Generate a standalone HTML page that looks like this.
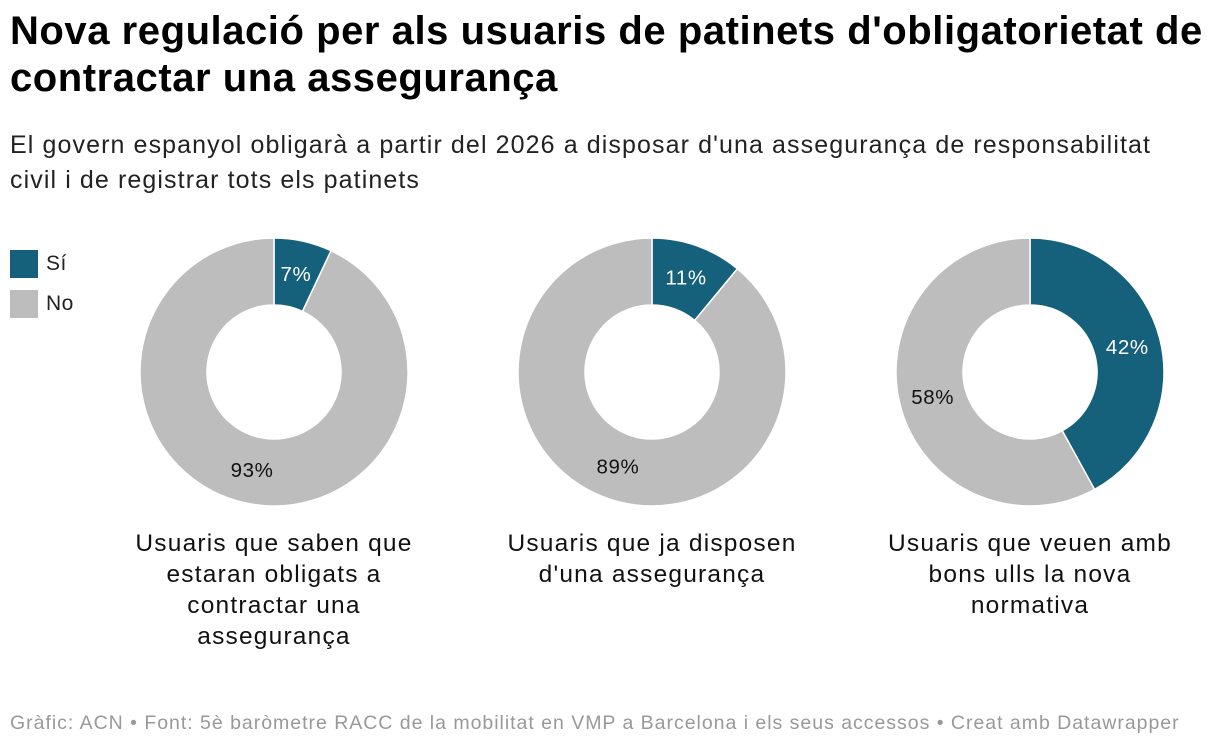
<!DOCTYPE html>
<html><head><meta charset="utf-8"><style>
body{margin:0;background:#fff;font-family:"Liberation Sans",Arial,sans-serif;}
#wrap{position:relative;width:1220px;height:750px;overflow:hidden}
h1{position:absolute;left:10px;top:8px;margin:0;font-size:40px;line-height:47px;font-weight:bold;color:#000;letter-spacing:0.55px;width:1210px}
.sub{position:absolute;left:10px;top:128px;margin:0;font-size:25px;line-height:35px;color:#222;width:1180px;letter-spacing:1.1px}
.leg{position:absolute;left:10px;font-size:21px;color:#222;display:flex;align-items:center;letter-spacing:0.5px}
.leg span.sw{width:28px;height:28px;display:inline-block;margin-right:8px}
.cap{position:absolute;top:528px;width:300px;text-align:center;font-size:24.5px;line-height:31px;color:#111;letter-spacing:1.2px}
.foot{position:absolute;left:10px;top:712px;font-size:19.5px;color:#999;letter-spacing:0.98px;white-space:nowrap}
</style></head><body><div id="wrap">
<h1>Nova regulació per als usuaris de patinets d'obligatorietat de contractar una assegurança</h1>
<p class="sub">El govern espanyol obligarà a partir del 2026 a disposar d'una assegurança de responsabilitat civil i de registrar tots els patinets</p>
<div class="leg" style="top:250px"><span class="sw" style="background:#15607a"></span>Sí</div>
<div class="leg" style="top:290px"><span class="sw" style="background:#bdbdbd"></span>No</div>
<svg id="svg" width="1220" height="750" style="position:absolute;left:0;top:0"></svg>
<div class="cap" style="left:124px">Usuaris que saben que estaran obligats a contractar una assegurança</div>
<div class="cap" style="left:502px">Usuaris que ja disposen d'una assegurança</div>
<div class="cap" style="left:880px">Usuaris que veuen amb bons ulls la nova normativa</div>
<div class="foot">Gràfic: ACN • Font: 5è baròmetre RACC de la mobilitat en VMP a Barcelona i els seus accessos • Creat amb Datawrapper</div>
</div>
<script>
const categories=["saben","disposen","veuen"];
const siValues=[7,11,42];
const noValues=[93,89,58];
const svg=document.getElementById('svg');
const NS='http://www.w3.org/2000/svg';
const centers=[274,652,1030], cy=372, R=134, r=67;
function pt(a,rad,cx){return [cx+rad*Math.sin(a),cy-rad*Math.cos(a)];}
function arc(cx,a0,a1){
 const large=(a1-a0)>Math.PI?1:0;
 const p0=pt(a0,R,cx),p1=pt(a1,R,cx),p2=pt(a1,r,cx),p3=pt(a0,r,cx);
 return `M${p0}A${R},${R} 0 ${large} 1 ${p1}L${p2}A${r},${r} 0 ${large} 0 ${p3}Z`;
}
categories.forEach((c,i)=>{
 const cx=centers[i];const tot=siValues[i]+noValues[i];
 const parts=[[siValues[i],'#15607a','si'],[noValues[i],'#bdbdbd','no']];
 let a=0;
 parts.forEach(([v,col,k])=>{
  const a1=a+v/tot*2*Math.PI;
  const p=document.createElementNS(NS,'path');
  p.setAttribute('d',arc(cx,a,a1));p.setAttribute('fill',col);
  p.setAttribute('stroke','#fff');p.setAttribute('stroke-width','1.5');
  
  
  svg.appendChild(p);
  const m=(a+a1)/2;const lp=pt(m,100.5,cx);
  const t=document.createElementNS(NS,'text');
  t.setAttribute('x',lp[0]);t.setAttribute('y',lp[1]+7);
  t.setAttribute('text-anchor','middle');t.setAttribute('font-size','20.5');
  t.setAttribute('letter-spacing','0.6');
  t.setAttribute('font-family','Liberation Sans, Arial, sans-serif');
  t.setAttribute('fill',k==='si'?'#fff':'#111');
  t.textContent=v+'%';
  
  
  svg.appendChild(t);
  a=a1;
 });
});
</script></body></html>
